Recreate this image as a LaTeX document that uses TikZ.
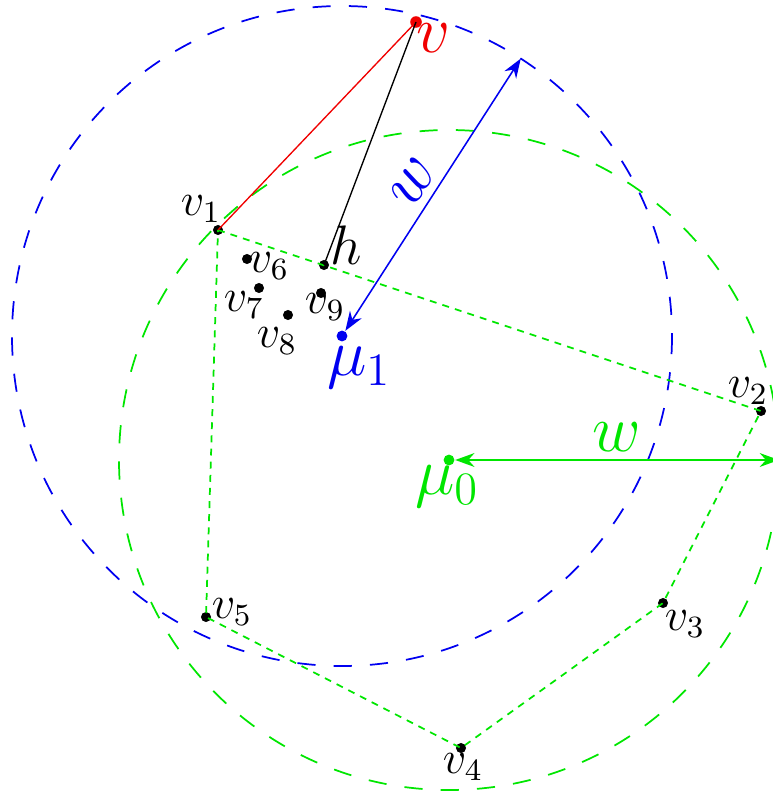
\documentclass[tikz,border=0pt]{standalone}
\usetikzlibrary{arrows.meta,calc}
\definecolor{mygreen}{RGB}{0,230,0}
\definecolor{myblue}{RGB}{0,0,240}
\definecolor{myred}{RGB}{240,0,0}
\begin{document}
\begin{tikzpicture}[x=0.0090909cm,y=-0.0090909cm,
  pt/.style={circle,fill=black,inner sep=0pt,minimum size=2.6pt},
  lbl/.style={inner sep=0pt,font=\large},
  biglbl/.style={inner sep=0pt,font=\LARGE},
  bigcirc/.style={dash pattern=on 4.7pt off 4.7pt,line width=0.45pt},
  poly/.style={mygreen,dash pattern=on 1.8pt off 1.6pt,line width=0.45pt},
  dbl/.style={{Stealth[length=5pt,width=3.6pt]}-{Stealth[length=5pt,width=3.6pt]},line width=0.4pt}]
\useasboundingbox (0,0) rectangle (773,796);
% centres
\node[circle,fill=mygreen,inner sep=0pt,minimum size=2.8pt] (mu0) at (449,460) {};
\node[circle,fill=myblue,inner sep=0pt,minimum size=2.8pt] (mu1) at (342,336) {};
\draw[mygreen,bigcirc] (mu0.center) circle[radius=330];
\draw[myblue,bigcirc] (mu1.center) circle[radius=330];
% points
\node[circle,fill=myred,inner sep=0pt,minimum size=3pt] (v) at (416,22) {};
\node[pt] (v1) at (218,230) {};
\node[pt] (v2) at (761,411) {};
\node[pt] (v3) at (663,603) {};
\node[pt] (v4) at (461,748) {};
\node[pt] (v5) at (206,617) {};
\node[pt] (v6) at (247,259) {};
\node[pt] (v7) at (259,288) {};
\node[pt] (v8) at (288,315) {};
\node[pt] (v9) at (321,293) {};
\node[pt] (h) at (324,265) {};
% polygon
\draw[poly] (v1.center) -- (v2.center) -- (v3.center) -- (v4.center) -- (v5.center) -- cycle;
% lines
\draw[myred,line width=0.35pt] (v.center) -- (v1.center);
\draw[black,line width=0.35pt] (v.center) -- (h.center);
% arrows
\coordinate (gend) at (779,460);
\coordinate (bend) at ($(mu1.center)+(-57.2:330)$);
\draw[mygreen,dbl] (mu0) -- (gend) node[midway,above,biglbl,yshift=2pt] {$w$};
\draw[myblue,dbl] (mu1) -- (bend) node[midway,above,sloped,biglbl,yshift=2pt] {$w$};
% labels
\node[biglbl,myred] (lv) at (433,38) {$v$};
\node[lbl] (l1) at (201,209) {$v_1$};
\node[lbl] (l2) at (748,391) {$v_2$};
\node[lbl] (l3) at (685,624) {$v_3$};
\node[lbl] (l4) at (463,767) {$v_4$};
\node[lbl] (l5) at (232,612) {$v_5$};
\node[lbl] (l6) at (269,266) {$v_6$};
\node[lbl] (l7) at (244,305) {$v_7$};
\node[lbl] (l8) at (277,341) {$v_8$};
\node[lbl] (l9) at (325,307) {$v_9$};
\node[lbl,font=\Large] (lh) at (346,245) {$h$};
\node[biglbl,myblue] (lm1) at (359,368) {$\mu_1$};
\node[biglbl,mygreen] (lm0) at (447,487) {$\mu_0$};
\end{tikzpicture}
\end{document}
